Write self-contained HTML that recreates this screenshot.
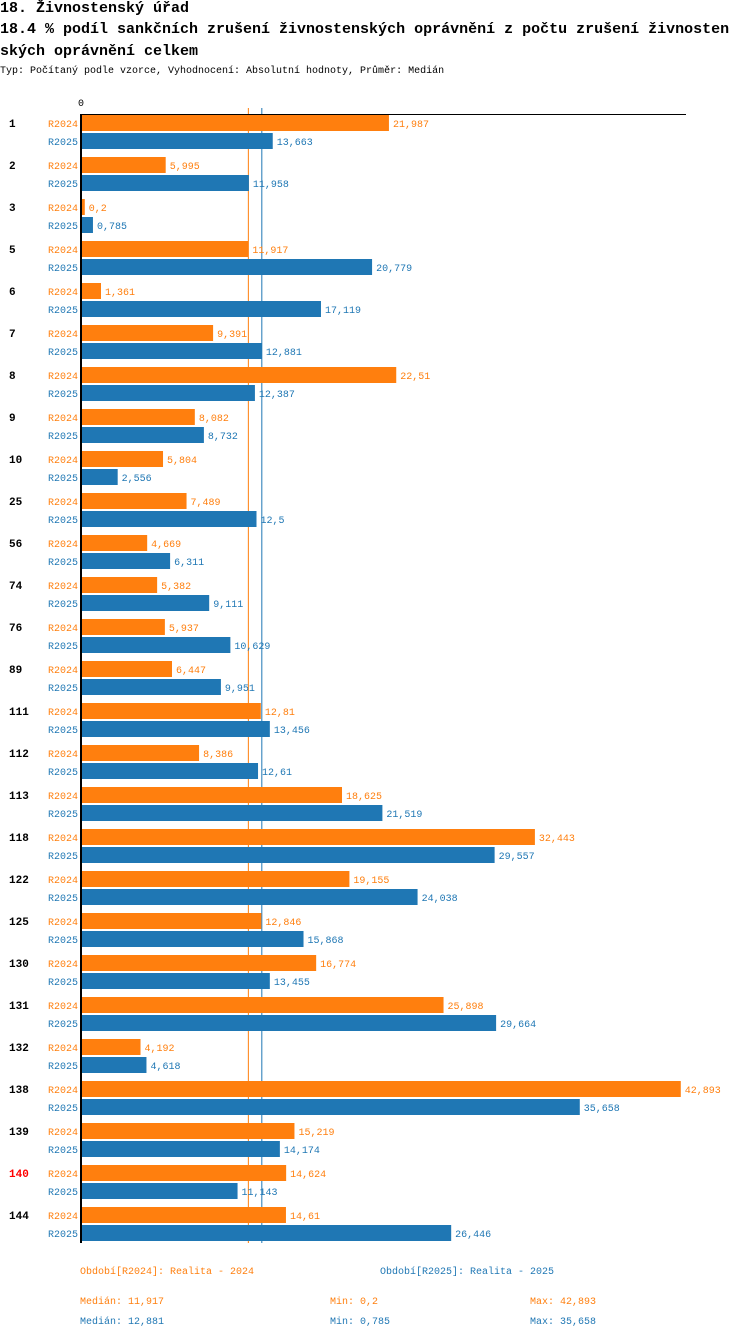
<!DOCTYPE html>
<html><head><meta charset="utf-8">
<style>
body{margin:0;background:#fff;width:750px;height:1338px;overflow:hidden;font-family:"Liberation Mono",monospace;}
.t{position:absolute;left:0;white-space:nowrap;font-weight:bold;font-size:15px;color:#000;}
svg text{font-family:"Liberation Mono",monospace;}
</style></head><body>
<div class="t" style="top:0px">18. Živnostenský úřad</div>
<div class="t" style="top:21px">18.4 % podíl sankčních zrušení živnostenských oprávnění z počtu zrušení živnosten</div>
<div class="t" style="top:43px">ských oprávnění  celkem</div>
<div style="position:absolute;left:0;top:66px;font-size:10px;white-space:nowrap">Typ: Počítaný podle vzorce, Vyhodnocení: Absolutní hodnoty, Průměr: Medián</div>
<svg id="chart" width="750" height="1338" style="position:absolute;left:0;top:0"></svg>
<script>
const categories=["1","2","3","5","6","7","8","9","10","25","56","74","76","89","111","112","113","118","122","125","130","131","132","138","139","140","144"];
const r2024=[21.987,5.995,0.2,11.917,1.361,9.391,22.51,8.082,5.804,7.489,4.669,5.382,5.937,6.447,12.81,8.386,18.625,32.443,19.155,12.846,16.774,25.898,4.192,42.893,15.219,14.624,14.61];
const r2025=[13.663,11.958,0.785,20.779,17.119,12.881,12.387,8.732,2.556,12.5,6.311,9.111,10.629,9.951,13.456,12.61,21.519,29.557,24.038,15.868,13.455,29.664,4.618,35.658,14.174,11.143,26.446];
const highlighted=["140"];
const median2024=11.917, median2025=12.881;
const O="#ff7f0e",B="#1f77b4";
const svg=document.getElementById('chart');
const NS="http://www.w3.org/2000/svg";
const x=v=>82+v*13.96;
const y=i=>115+i*42;
function mk(tag,attrs,txt){const e=document.createElementNS(NS,tag);for(const k in attrs)e.setAttribute(k,attrs[k]);if(txt!==undefined)e.textContent=txt;svg.appendChild(e);return e;}
const fmt=v=>String(v).replace('.',',');
let e;
const bottom=y(categories.length)-6;
e=mk('line',{x1:x(median2024),y1:108,x2:x(median2024),y2:bottom,stroke:O,'stroke-width':1});


e=mk('line',{x1:x(median2025),y1:108,x2:x(median2025),y2:bottom,stroke:B,'stroke-width':1});


e=mk('line',{x1:81,y1:114.5,x2:686,y2:114.5,stroke:'#000','stroke-width':1});


e=mk('text',{x:81,y:106,'font-size':10,'text-anchor':'middle',fill:'#000'},'0');


categories.forEach((c,i)=>{
  const y0=y(i);
  e=mk('text',{x:9,y:y0+12,'font-size':11,'font-weight':'bold',fill:highlighted.includes(c)?'#f00':'#000'},c);
  
  
  e=mk('text',{x:78,y:y0+12,'font-size':10,'text-anchor':'end',fill:O},'R2024');
  
  
  e=mk('text',{x:78,y:y0+30,'font-size':10,'text-anchor':'end',fill:B},'R2025');
  
  
  e=mk('rect',{x:x(0),y:y0,width:Math.max(1,x(r2024[i])-x(0)),height:16,fill:O});
  
  
  e=mk('text',{x:x(r2024[i])+4,y:y0+12,'font-size':10,fill:O},fmt(r2024[i]));
  
  
  e=mk('rect',{x:x(0),y:y0+18,width:Math.max(1,x(r2025[i])-x(0)),height:16,fill:B});
  
  
  e=mk('text',{x:x(r2025[i])+4,y:y0+30,'font-size':10,fill:B},fmt(r2025[i]));
  
  
});
e=mk('rect',{x:80,y:114,width:2,height:bottom-114,fill:'#000'});


const legend=[[80,1274,O,'Období[R2024]: Realita - 2024'],[380,1274,B,'Období[R2025]: Realita - 2025'],
[80,1304,O,'Medián: 11,917'],[330,1304,O,'Min: 0,2'],[530,1304,O,'Max: 42,893'],
[80,1324,B,'Medián: 12,881'],[330,1324,B,'Min: 0,785'],[530,1324,B,'Max: 35,658']];
legend.forEach(l=>{
  e=mk('text',{x:l[0],y:l[1],'font-size':10,fill:l[2]},l[3]);
  
  
});
</script>
</body></html>
